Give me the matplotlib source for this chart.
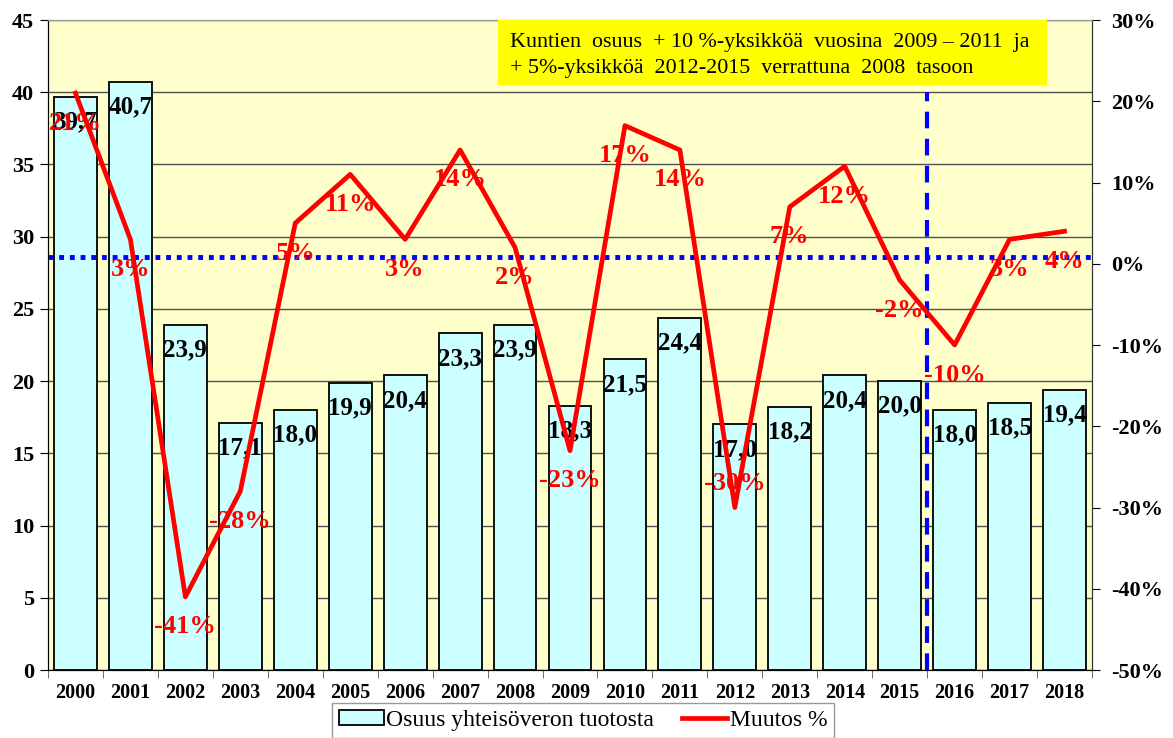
import numpy as np
import matplotlib
matplotlib.use("Agg")
import matplotlib.pyplot as plt
from matplotlib.patches import Rectangle, Patch
from matplotlib.lines import Line2D

# data
years = ['2000', '2001', '2002', '2003', '2004', '2005', '2006', '2007', '2008', '2009',
         '2010', '2011', '2012', '2013', '2014', '2015', '2016', '2017', '2018']
osuus = [39.7, 40.7, 23.9, 17.1, 18.0, 19.9, 20.4, 23.3, 23.9, 18.3,
         21.5, 24.4, 17.0, 18.2, 20.4, 20.0, 18.0, 18.5, 19.4]
muutos = [21, 3, -41, -28, 5, 11, 3, 14, 2, -23,
          17, 14, -30, 7, 12, -2, -10, 3, 4]
ref_level = 28.6      # blue dotted line (left axis units)
split_top = 40        # blue dashed line height
title_lines = ['Kuntien  osuus  + 10 %-yksikköä  vuosina  2009 – 2011  ja',
               '+ 5%-yksikköä  2012-2015  verrattuna  2008  tasoon']

serif = 'Liberation Serif'
plt.rcParams['font.family'] = [serif, 'DejaVu Serif']

fig = plt.figure(figsize=(11.73, 7.38), dpi=100)
ax = fig.add_axes([48/1173, 1-670/738, (1092-48)/1173, 650/738])
ax.set_facecolor('#FFFFCC')

x = np.arange(len(years))
ax.bar(x, osuus, width=0.78, color='#CCFFFF', edgecolor='black', linewidth=1.3, zorder=2)
ax.set_xlim(-0.5, len(years)-0.5)
ax.set_ylim(0, 45)
ax.set_yticks(range(0, 46, 5))
ax.yaxis.grid(True, color='#505050', linewidth=1)
ax.set_axisbelow(True)

for xi, v in zip(x, osuus):
    ax.annotate(f"{v:.1f}".replace('.', ','), (xi, v), xytext=(0, -25),
                textcoords='offset pixels', ha='center', va='center',
                fontsize=18, fontweight='bold', color='black', zorder=3)

ax.set_xticks(x)
ax.set_xticklabels(years, fontsize=14.5, fontweight='bold')
ax.set_xticks(np.arange(-0.5, len(years), 1), minor=True)
ax.tick_params(axis='x', which='major', length=0, pad=9)
ax.tick_params(axis='x', which='minor', length=6, color='#555555')
ax.tick_params(axis='y', length=6, labelsize=16, pad=4)
for lbl in ax.get_yticklabels():
    lbl.set_fontweight('bold')

ax.plot([15.5, 15.5], [0, split_top], color='#0000FF', linestyle=(0, (4, 2.5)),
        linewidth=3, zorder=4)

ax2 = ax.twinx()
ax2.set_ylim(-50, 30)
ax2.set_yticks(range(-50, 31, 10))
ax2.set_yticklabels([f"{t}%" for t in range(-50, 31, 10)], fontsize=16, fontweight='bold')
ax2.tick_params(axis='y', length=6, pad=8)
ref_pct = ref_level / 45 * 80 - 50
ax2.axhline(ref_pct, color='#0000FF', linestyle=(0, (1, 1.2)), linewidth=3.5, zorder=2)
ax2.plot(x, muutos, color='#FF0000', linewidth=3.4, zorder=3)

above = {12}
for i, (xi, v) in enumerate(zip(x, muutos)):
    dy = 24 if i in above else -30
    ax2.annotate(f"{v}%", (xi, v), xytext=(0, dy), textcoords='offset pixels',
                 ha='center', va='center', fontsize=19, fontweight='bold',
                 color='#FF0000', zorder=5)

for a in (ax, ax2):
    a.spines['top'].set_color('#999999')
    a.spines['left'].set_color('black')
    a.spines['right'].set_color('#333333')
    a.spines['bottom'].set_color('black')

# yellow note box
fig.patches.append(Rectangle((498/1173, 1-85/738), 549/1173, 65/738,
                             transform=fig.transFigure, facecolor='#FFFF00',
                             edgecolor='none', zorder=10))
fig.text(510/1173, 1-42/738, title_lines[0], fontsize=15.8, va='center', ha='left', zorder=11)
fig.text(510/1173, 1-69/738, title_lines[1], fontsize=15.8, va='center', ha='left', zorder=11)

handles = [Patch(facecolor='#CCFFFF', edgecolor='black', linewidth=1.3),
           Line2D([], [], color='#FF0000', linewidth=3.4)]
fig.legend(handles, ['Osuus yhteisöveron tuotosta', 'Muutos %'], ncol=2,
           loc='upper center', bbox_to_anchor=(583/1173, 1-703/738), fontsize=17,
           frameon=True, fancybox=False, edgecolor='#999999', framealpha=1,
           handlelength=1.9, handleheight=0.6, columnspacing=1.2, handletextpad=0.1,
           borderpad=0.3, borderaxespad=0)

fig.savefig('out.png', dpi=100)
